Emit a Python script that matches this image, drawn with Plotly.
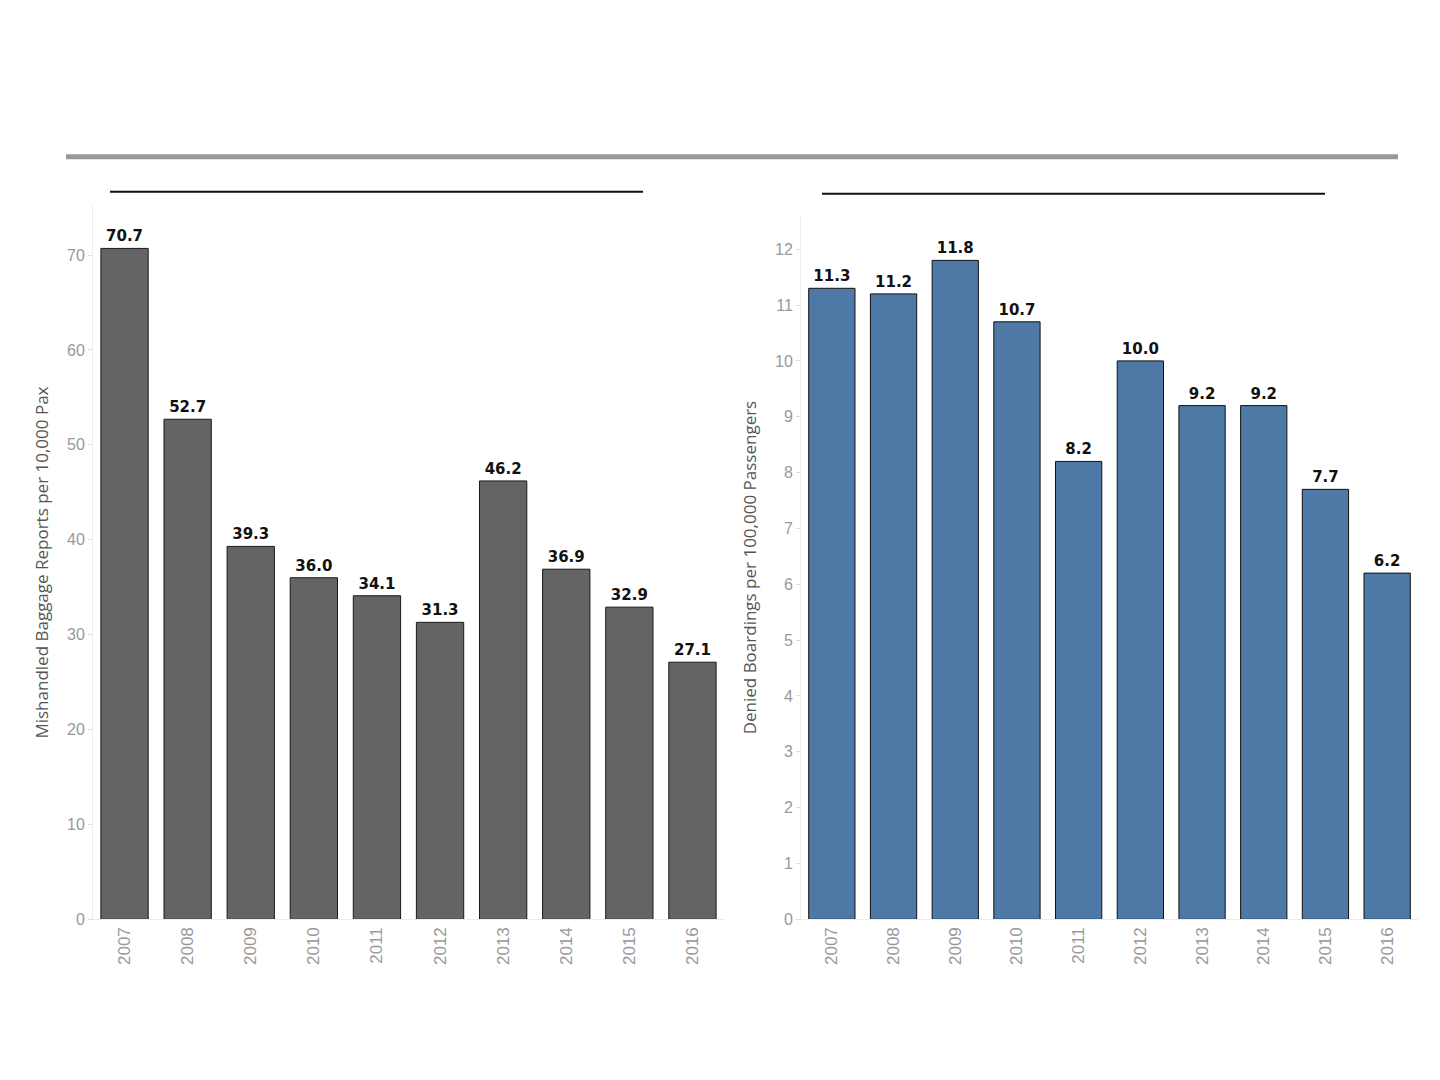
import plotly.graph_objects as go
from plotly.subplots import make_subplots

years = ["2007", "2008", "2009", "2010", "2011", "2012", "2013", "2014", "2015", "2016"]
baggage = [70.7, 52.7, 39.3, 36.0, 34.1, 31.3, 46.2, 36.9, 32.9, 27.1]
denied = [11.3, 11.2, 11.8, 10.7, 8.2, 10.0, 9.2, 9.2, 7.7, 6.2]

# page body adds an 8px margin, so the figure is drawn 16px smaller
W, H = 1424, 1064


def px(x):
    return (x - 8) / W


def py(y):
    # vertical placement measured from the rendered page
    return 1 - ((y - 7.2) / 0.992) / H


fig = make_subplots(rows=1, cols=2)

label_font = dict(family="DejaVu Sans", size=15, color="#111111", weight="bold")

fig.add_trace(go.Bar(
    x=years, y=baggage, marker=dict(color="#646464", line=dict(color="#1a1a1a", width=1)),
    text=["%.1f" % v for v in baggage], textposition="outside", cliponaxis=False,
    textfont=label_font,
), row=1, col=1)

fig.add_trace(go.Bar(
    x=years, y=denied, marker=dict(color="#4e79a7", line=dict(color="#111111", width=1)),
    text=["%.1f" % v for v in denied], textposition="outside", cliponaxis=False,
    textfont=label_font,
), row=1, col=2)

axis_common = dict(showgrid=False, zeroline=False, showline=True, linecolor="#ececec", linewidth=1)
tickfont = dict(family="Liberation Sans", size=16, color="#999999")
title_font = dict(family="Open Sans", size=17, color="#555555")

fig.update_xaxes(axis_common, tickangle=-90, tickfont=dict(tickfont, size=17), ticks="")
fig.update_xaxes(domain=[px(93), px(724)], row=1, col=1)
fig.update_xaxes(domain=[px(801), px(1418)], row=1, col=2)

fig.update_yaxes(axis_common, tickfont=tickfont, ticks="outside", ticklen=4, tickcolor="#dddddd")
fig.update_yaxes(domain=[py(919), py(205)], range=[0, 75.2], dtick=10, row=1, col=1,
                 title=dict(text="Mishandled Baggage Reports per 10,000 Pax", standoff=14,
                            font=title_font))
fig.update_yaxes(domain=[py(919), py(215)], range=[0, 12.6], dtick=1, row=1, col=2,
                 title=dict(text="Denied Boardings per 100,000 Passengers", standoff=14,
                            font=title_font))

# header rules
fig.add_shape(type="line", xref="paper", yref="paper", x0=px(66), x1=px(1398),
              y0=py(156), y1=py(156), line=dict(color="#999999", width=5))
fig.add_shape(type="line", xref="paper", yref="paper", x0=px(110), x1=px(643),
              y0=py(191), y1=py(191), line=dict(color="#111111", width=2))
fig.add_shape(type="line", xref="paper", yref="paper", x0=px(822), x1=px(1325),
              y0=py(193), y1=py(193), line=dict(color="#111111", width=2))

fig.update_layout(
    width=W, height=H, margin=dict(l=0, r=0, t=0, b=0),
    plot_bgcolor="white", paper_bgcolor="white", showlegend=False, bargap=0.25,
)

fig.write_html("out.html")
